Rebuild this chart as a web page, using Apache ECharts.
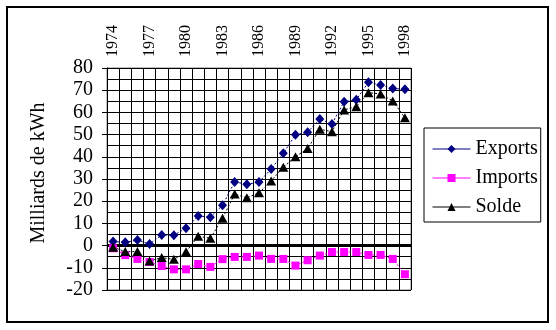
<!DOCTYPE html>
<html>
<head>
<meta charset="utf-8">
<script src="https://cdn.jsdelivr.net/npm/echarts@6/dist/echarts.min.js"></script>
<style>
html,body{margin:0;padding:0;background:#fff;}
#c{width:556px;height:330px;}
</style>
</head>
<body>
<div id="c"></div>
<script>
const years = ['1974','1975','1976','1977','1978','1979','1980','1981','1982','1983','1984','1985','1986','1987','1988','1989','1990','1991','1992','1993','1994','1995','1996','1997','1998'];
const exportsData = [1.8,1.5,2.5,0.7,4.8,4.7,7.8,13.3,12.8,18.2,28.7,27.6,28.6,34.5,41.6,49.9,51.1,57.0,54.8,64.8,65.7,73.6,72.3,70.8,70.4];
const importsData = [-1.2,-4.3,-6.0,-7.4,-9.2,-10.7,-10.7,-8.3,-9.6,-6.1,-5.1,-5.1,-4.5,-6.0,-6.0,-9.0,-6.6,-4.5,-2.9,-2.9,-2.9,-4.2,-4.2,-6.0,-12.9];
const soldeData = [-0.7,-2.7,-2.7,-6.9,-5.4,-6.2,-2.8,4.2,3.3,12.3,23.2,21.5,23.8,29.1,35.3,40.0,43.7,52.4,51.3,61.1,62.6,68.9,68.3,65.1,57.6];
const yTicks = {min:-20, max:80, step:10};
const seriesNames = ['Exports','Imports','Solde'];
const yName = 'Milliards de kWh';

const font = 'Liberation Serif';
const chart = echarts.init(document.getElementById('c'));
chart.setOption({
  animation:false,
  backgroundColor:'#fff',
  textStyle:{fontFamily:font},
  graphic:[{type:'rect',shape:{x:7,y:7,width:541,height:315},style:{fill:'none',stroke:'#000',lineWidth:2},z:-1}],
  grid:{left:107,top:68,right:145,bottom:40,show:true,borderColor:'#808080',borderWidth:1,backgroundColor:'transparent'},
  legend:{
    orient:'vertical',left:424,top:128,
    data:seriesNames,
    itemWidth:38,itemHeight:10,itemGap:9,
    padding:[11,3,5,8],
    borderColor:'#000',borderWidth:1,
    lineStyle:{type:'solid',width:1},
    textStyle:{fontFamily:font,fontSize:20,color:'#000'}
  },
  xAxis:{
    type:'category',data:years,position:'top',boundaryGap:true,
    axisLine:{show:false,onZero:false},
    axisTick:{show:false},
    axisLabel:{interval:2,rotate:-90,fontFamily:font,fontSize:16,color:'#000',margin:11},
    splitLine:{show:true,interval:0,lineStyle:{color:'#000',width:1}}
  },
  yAxis:{
    type:'value',min:yTicks.min,max:yTicks.max,interval:yTicks.step,
    name:yName,nameLocation:'middle',nameRotate:90,nameGap:58,
    nameTextStyle:{fontFamily:font,fontSize:20,color:'#000',padding:[0,0,0,12]},
    axisLine:{show:true,lineStyle:{color:'#000',width:1}},
    axisTick:{show:true,length:5,lineStyle:{color:'#000'}},
    minorTick:{show:false,splitNumber:2},
    minorSplitLine:{show:true,lineStyle:{color:'#000',width:1}},
    splitLine:{show:true,lineStyle:{color:'#000',width:1}},
    axisLabel:{fontFamily:font,fontSize:20,color:'#000',margin:14}
  },
  series:[
    {name:seriesNames[0],type:'line',data:exportsData,symbol:'diamond',symbolSize:[9,10],showAllSymbol:true,
     itemStyle:{color:'#000080'},lineStyle:{color:'#000080',width:1,type:[2,2]},z:5,
     markLine:{silent:true,symbol:'none',label:{show:false},lineStyle:{color:'#000',width:3,type:'solid'},data:[{yAxis:0}],z:3}},
    {name:seriesNames[1],type:'line',data:importsData,symbol:'rect',symbolSize:8,showAllSymbol:true,
     itemStyle:{color:'#ff00ff'},lineStyle:{color:'#ff00ff',width:1,type:[2,2]},z:5},
    {name:seriesNames[2],type:'line',data:soldeData,symbol:'triangle',symbolSize:[10,9],showAllSymbol:true,
     itemStyle:{color:'#000'},lineStyle:{color:'#000',width:1,type:[2,2]},z:5}
  ]
});
</script>
</body>
</html>
